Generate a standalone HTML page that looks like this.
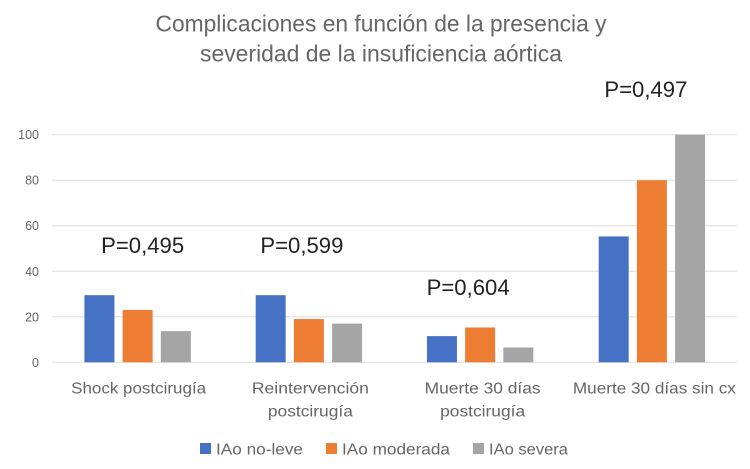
<!DOCTYPE html>
<html lang="es">
<head>
<meta charset="utf-8">
<title>Complicaciones en función de la presencia y severidad de la insuficiencia aórtica</title>
<style>
html,body{margin:0;padding:0;background:#fff;width:750px;height:469px;overflow:hidden}
svg{display:block;font-family:"Liberation Sans",sans-serif}
</style>
</head>
<body>
<svg id="chart" width="750" height="469" viewBox="0 0 750 469">
  <defs><filter id="soft" x="-5%" y="-5%" width="110%" height="110%"><feGaussianBlur stdDeviation="0.35"/></filter></defs>
  <g id="root" filter="url(#soft)">
    <g id="grid"></g>
    <g id="bars"></g>
    <g id="ticks"></g>
    <g id="cats"></g>
    <text x="381" y="31.5" text-anchor="middle" font-size="23.5" fill="#666" textLength="451" lengthAdjust="spacingAndGlyphs">Complicaciones en función de la presencia y</text>
    <text x="381" y="61.5" text-anchor="middle" font-size="23.5" fill="#666" textLength="362" lengthAdjust="spacingAndGlyphs">severidad de la insuficiencia aórtica</text>
    <g id="pvalues"></g>
    <g id="legend"></g>
  </g>
</svg>
<script>
const categories = [["Shock postcirugía"], ["Reintervención", "postcirugía"], ["Muerte 30 días", "postcirugía"], ["Muerte 30 días sin cx"]];
const seriesNames = ["IAo no-leve", "IAo moderada", "IAo severa"];
const noLeve = [29.5, 29.5, 11.5, 55.3];
const moderada = [23, 19, 15.3, 80];
const severa = [13.7, 17, 6.5, 100];
const tickLabels = [0, 20, 40, 60, 80, 100];
const pLabels = ["P=0,495", "P=0,599", "P=0,604", "P=0,497"];
const pLevels = [51.2, 51.2, 32.6, 119.6];

const NS = "http://www.w3.org/2000/svg";
const colors = ["#4472c4", "#ed7d31", "#a5a5a5"];
const series = [noLeve, moderada, severa];
const plot = {left: 52, right: 737, top: 134.7, bottom: 362.3};
const yScale = v => plot.bottom - (v / 100) * (plot.bottom - plot.top);
const xCenter = i => plot.left + (plot.right - plot.left) * (i + 0.5) / categories.length;
const barW = 30, step = 38.2;
const catFit = {"Shock postcirugía": 135, "Reintervención": 117, "postcirugía": 85, "Muerte 30 días": 116, "Muerte 30 días sin cx": 163};
const catShift = [1, 1.5, 2.5, 3];
const pShift = [5, -7, -12, -5.5];
const legendX = [200, 326, 473];
const legendFit = [87, 108, 79];

function make(tag, attrs, parent, txt) {
  const el = document.createElementNS(NS, tag);
  for (const k in attrs) el.setAttribute(k, attrs[k]);
  if (txt !== undefined) el.textContent = txt;
  parent.appendChild(el);
  return el;
}

const gridG = document.getElementById("grid");
const ticksG = document.getElementById("ticks");
tickLabels.forEach(t => {
  const line = make("line", {x1: plot.left, x2: plot.right, y1: yScale(t), y2: yScale(t), stroke: "#e2e2e2", "stroke-width": 1.2}, gridG);
  
  
  const label = make("text", {x: 39, y: yScale(t) + 4.5, "text-anchor": "end", "font-size": 12.5, fill: "#666"}, ticksG, String(t));
  
  
});

const barsG = document.getElementById("bars");
series.forEach((vals, s) => {
  vals.forEach((v, i) => {
    const x = xCenter(i) + (s - 1) * step - barW / 2 + (i === 3 ? 0.5 : 0);
    const bar = make("rect", {x: x, y: yScale(v), width: barW, height: plot.bottom - yScale(v), fill: colors[s]}, barsG);
    
    
  });
});

const catsG = document.getElementById("cats");
categories.forEach((lines, i) => {
  lines.forEach((ln, j) => {
    const label = make("text", {x: xCenter(i) + catShift[i], y: 393.5 + j * 23, "text-anchor": "middle", "font-size": 15.5, fill: "#666", textLength: catFit[ln], lengthAdjust: "spacingAndGlyphs"}, catsG, ln);
    
    
  });
});

const pG = document.getElementById("pvalues");
pLabels.forEach((p, i) => {
  const label = make("text", {x: xCenter(i) + pShift[i], y: yScale(pLevels[i]) + 7, "text-anchor": "middle", "font-size": 22, fill: "#222", textLength: 83, lengthAdjust: "spacingAndGlyphs"}, pG, p);
  
  
});

const legendG = document.getElementById("legend");
seriesNames.forEach((n, s) => {
  const swatch = make("rect", {x: legendX[s], y: 443, width: 11, height: 11, fill: colors[s]}, legendG);
  
  
  const label = make("text", {x: legendX[s] + 16, y: 454.5, "font-size": 15.5, fill: "#666", textLength: legendFit[s], lengthAdjust: "spacingAndGlyphs"}, legendG, n);
  
  
});
</script>
</body>
</html>
